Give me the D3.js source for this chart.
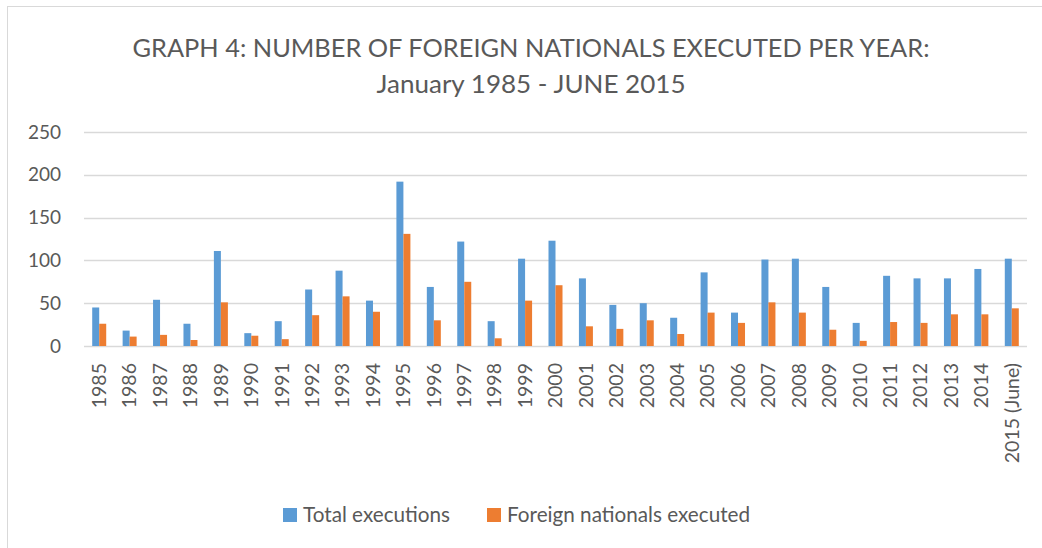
<!DOCTYPE html>
<html>
<head>
<meta charset="utf-8">
<script src="https://cdn.jsdelivr.net/npm/d3@7"></script>
<style>
  body { margin: 0; background: #fff; }
  text { font-family: Lato, "Open Sans", sans-serif; fill: #595959; }
</style>
</head>
<body>
<div id="chart"></div>
<script>
const years = ["1985", "1986", "1987", "1988", "1989", "1990", "1991", "1992", "1993", "1994",
  "1995", "1996", "1997", "1998", "1999", "2000", "2001", "2002", "2003", "2004",
  "2005", "2006", "2007", "2008", "2009", "2010", "2011", "2012", "2013", "2014", "2015 (June)"];
const totalExecutions = [45, 18, 54, 26, 111, 15, 29, 66, 88, 53,
  192, 69, 122, 29, 102, 123, 79, 48, 50, 33,
  86, 39, 101, 102, 69, 27, 82, 79, 79, 90, 102];
const foreignExecuted = [26, 11, 13, 7, 51, 12, 8, 36, 58, 40,
  131, 30, 75, 9, 53, 71, 23, 20, 30, 14,
  39, 27, 51, 39, 19, 6, 28, 27, 37, 37, 44];
const seriesNames = ["Total executions", "Foreign nationals executed"];
const yTicks = [0, 50, 100, 150, 200, 250];

const width = 1042, height = 548;
const margin = {top: 132, right: 15, bottom: 202, left: 84};
const colors = ["#5B9BD5", "#ED7D31"];

const svg = d3.select('#chart')
  .append('svg')
  .attr('width', width)
  .attr('height', height);

// chart frame (only top/left edge visible in the crop)
svg.append('rect')
  .attr('x', 7.5).attr('y', 6.5)
  .attr('width', width + 20).attr('height', height + 20)
  .attr('fill', 'none')
  .attr('stroke', '#D9D9D9');

let x = d3.scaleBand()
  .domain(years)
  .range([margin.left, width - margin.right])
  .paddingInner(0)
  .paddingOuter(0);

let y = d3.scaleLinear()
  .domain([0, 250])
  .range([height - margin.bottom, margin.top]);

let barW = 7;

// gridlines
svg.append('g')
  .selectAll('line')
  .data(yTicks)
  .enter().append('line')
  .attr('x1', margin.left)
  .attr('x2', width - margin.right)
  .attr('y1', d => Math.round(y(d)) + 0.5)
  .attr('y2', d => Math.round(y(d)) + 0.5)
  .attr('stroke', '#D9D9D9')
  .attr('stroke-width', 1.5);

// y labels
svg.append('g')
  .selectAll('text')
  .data(yTicks)
  .enter().append('text')
  .attr('x', 61)
  .attr('y', d => y(d))
  .attr('dy', '0.35em')
  .attr('text-anchor', 'end')
  .style('font-size', '19px')
  .text(d => d);

// bars
const series = [totalExecutions, foreignExecuted];
series.forEach((vals, i) => {
  svg.append('g')
    .selectAll('rect')
    .data(vals)
    .enter().append('rect')
    .attr('x', (d, j) => x(years[j]) + x.bandwidth() / 2 - barW + i * barW)
    .attr('y', d => y(d))
    .attr('width', barW)
    .attr('height', d => y(0) - y(d))
    .attr('fill', colors[i]);
});

// x labels, rotated
svg.append('g')
  .selectAll('text')
  .data(years)
  .enter().append('text')
  .attr('transform', d => 'translate(' + (x(d) + x.bandwidth() / 2) + ',' + 363 + ') rotate(-90)')
  .attr('dy', '0.35em')
  .attr('text-anchor', 'end')
  .style('font-size', '19.5px')
  .text(d => d);

// title
const title = svg.append('g');
title.append('text')
  .attr('x', 531).attr('y', 57)
  .attr('text-anchor', 'middle')
  .attr('textLength', 797)
  .attr('lengthAdjust', 'spacingAndGlyphs')
  .style('font-size', '25px')
  .text('GRAPH 4: NUMBER OF FOREIGN NATIONALS EXECUTED PER YEAR:');
title.append('text')
  .attr('x', 531).attr('y', 93)
  .attr('text-anchor', 'middle')
  .attr('textLength', 309)
  .attr('lengthAdjust', 'spacingAndGlyphs')
  .style('font-size', '25px')
  .text('January 1985 - JUNE 2015');

// legend
const legendX = [283, 487];
const legend = svg.append('g');
seriesNames.forEach((name, i) => {
  legend.append('rect')
    .attr('x', legendX[i]).attr('y', 508)
    .attr('width', 14).attr('height', 14)
    .attr('fill', colors[i]);
  legend.append('text')
    .attr('x', legendX[i] + 20).attr('y', 515)
    .attr('dy', '0.35em')
    .style('font-size', '20.7px')
    .text(name);
});
</script>
</body>
</html>
